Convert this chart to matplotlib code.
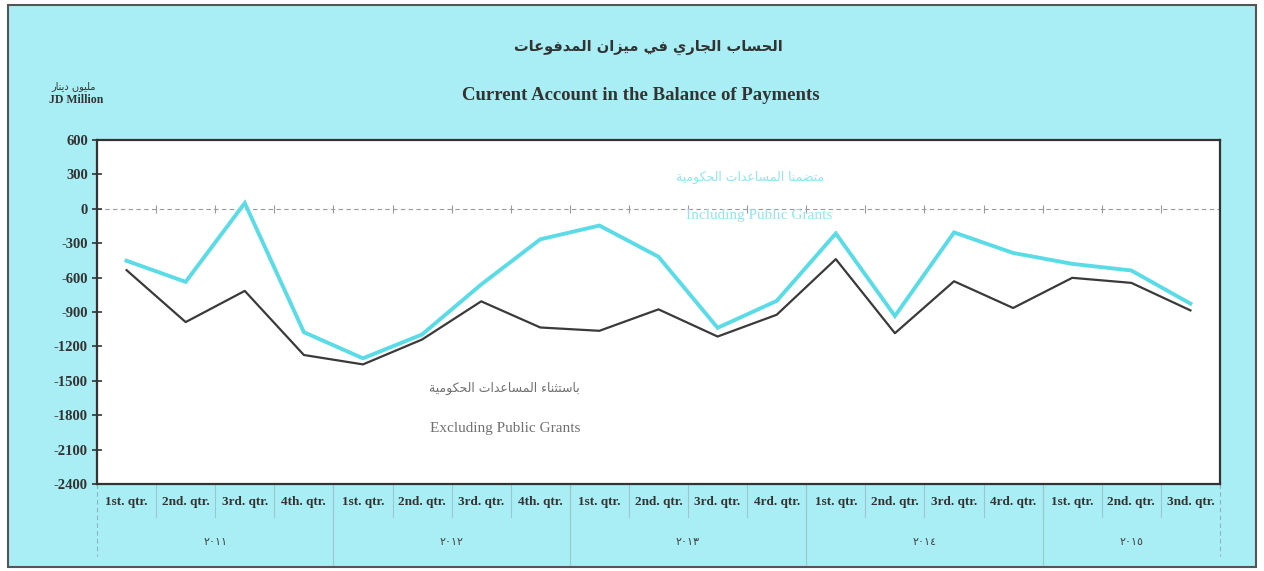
import matplotlib
matplotlib.use("Agg")
import matplotlib.pyplot as plt
import matplotlib.transforms as mtransforms
from matplotlib.patches import Rectangle

# البيانات (مليون دينار)
quarters = ["1st. qtr.", "2nd. qtr.", "3rd. qtr.", "4th. qtr.",
            "1st. qtr.", "2nd. qtr.", "3rd. qtr.", "4th. qtr.",
            "1st. qtr.", "2nd. qtr.", "3rd. qtr.", "4rd. qtr.",
            "1st. qtr.", "2nd. qtr.", "3rd. qtr.", "4rd. qtr.",
            "1st. qtr.", "2nd. qtr.", "3nd. qtr."]
years = ["٢٠١١", "٢٠١٢", "٢٠١٣", "٢٠١٤", "٢٠١٥"]
year_sizes = [4, 4, 4, 4, 3]

incl_grants = [-453, -637, 50, -1076, -1304, -1096, -660, -266, -146, -418,
               -1038, -803, -215, -935, -206, -385, -480, -538, -827]
excl_grants = [-535, -988, -716, -1275, -1357, -1140, -807, -1035, -1064, -877,
               -1114, -924, -439, -1085, -632, -865, -602, -646, -886]

# تشكيل الحروف العربية يدويا (matplotlib لا يربط الحروف)
AR_FORMS = {
    'ء': (0xFE80, 1), 'آ': (0xFE81, 2), 'أ': (0xFE83, 2), 'ؤ': (0xFE85, 2),
    'إ': (0xFE87, 2), 'ئ': (0xFE89, 4), 'ا': (0xFE8D, 2), 'ب': (0xFE8F, 4),
    'ة': (0xFE93, 2), 'ت': (0xFE95, 4), 'ث': (0xFE99, 4), 'ج': (0xFE9D, 4),
    'ح': (0xFEA1, 4), 'خ': (0xFEA5, 4), 'د': (0xFEA9, 2), 'ذ': (0xFEAB, 2),
    'ر': (0xFEAD, 2), 'ز': (0xFEAF, 2), 'س': (0xFEB1, 4), 'ش': (0xFEB5, 4),
    'ص': (0xFEB9, 4), 'ض': (0xFEBD, 4), 'ط': (0xFEC1, 4), 'ظ': (0xFEC5, 4),
    'ع': (0xFEC9, 4), 'غ': (0xFECD, 4), 'ف': (0xFED1, 4), 'ق': (0xFED5, 4),
    'ك': (0xFED9, 4), 'ل': (0xFEDD, 4), 'م': (0xFEE1, 4), 'ن': (0xFEE5, 4),
    'ه': (0xFEE9, 4), 'و': (0xFEED, 2), 'ى': (0xFEEF, 2), 'ي': (0xFEF1, 4),
}


def ar(text):
    out = []
    for i, ch in enumerate(text):
        if ch not in AR_FORMS:
            out.append(ch)
            continue
        base, nf = AR_FORMS[ch]
        prev = text[i - 1] if i > 0 else ''
        nxt = text[i + 1] if i + 1 < len(text) else ''
        join_prev = prev in AR_FORMS and AR_FORMS[prev][1] == 4
        join_next = nf == 4 and nxt in AR_FORMS and AR_FORMS[nxt][1] > 1
        if nf == 1:
            form = 0
        elif join_prev and join_next:
            form = 3
        elif join_prev:
            form = 1
        elif join_next:
            form = 2
        else:
            form = 0
        out.append(chr(base + form))
    return ''.join(reversed(out))


W, H = 1264, 571
BG = '#a9eef4'
DARK = '#333333'
SERIF = ['Liberation Serif', 'DejaVu Serif']
ARAB = ['DejaVu Sans']


def fx(x):
    return x / W


def fy(y):
    return 1 - y / H


fig = plt.figure(figsize=(W / 100, H / 100), dpi=100, facecolor='white')
fig.patches.append(Rectangle((fx(8), fy(567)), fx(1256) - fx(8), fy(5) - fy(567),
                             transform=fig.transFigure, facecolor=BG,
                             edgecolor='#555555', linewidth=1.5, zorder=-10))

ax = fig.add_axes([fx(97), fy(484), fx(1220) - fx(97), fy(140) - fy(484)])
ax.set_facecolor('white')
n = len(quarters)
xs = list(range(n))

ax.plot(xs, incl_grants, color='#5adce7', lw=2.8, solid_joinstyle='miter', zorder=3)
ax.plot(xs, excl_grants, color='#3a3a3a', lw=1.6, zorder=4)

# خط الصفر المتقطع
ax.axhline(0, color='#9a9a9a', lw=0.8, ls=(0, (4, 3)), zorder=1)
bounds = [i + 0.5 for i in range(n - 1)]
ax.plot(bounds, [0] * len(bounds), ls='none', marker='|', ms=6, mew=0.8,
        color='#9a9a9a', zorder=1)

ax.set_xlim(-0.5, n - 0.5)
ax.set_ylim(-2400, 600)
ax.set_yticks(range(-2400, 601, 300))
ax.set_yticklabels([str(v) for v in range(-2400, 601, 300)],
                   fontfamily=SERIF, fontweight='bold', fontsize=10.5, color=DARK)
ax.set_xticks([])
ax.tick_params(axis='y', direction='inout', length=7, width=1.2, color=DARK, pad=3)
for sp in ax.spines.values():
    sp.set_color(DARK)
    sp.set_linewidth(1.6)

# تسميات المحور السيني
tr = mtransforms.blended_transform_factory(ax.transData, ax.transAxes)
for i, q in enumerate(quarters):
    ax.text(i, -0.052, q, transform=tr, ha='center', va='center',
            fontfamily=SERIF, fontweight='bold', fontsize=9.5, color=DARK)
for b in bounds:
    ax.plot([b, b], [0, -0.095], transform=tr, color='#9cc6cf', lw=0.8, clip_on=False)

start = 0
for yr, size in zip(years, year_sizes):
    ax.text(start + (size - 1) / 2, -0.17, yr, transform=tr, ha='center', va='center',
            fontfamily=ARAB, fontsize=8, color='#444444')
    edge = start - 0.5
    if start == 0:
        ax.plot([edge, edge], [0, -0.21], transform=tr, color='#8ab4bd', lw=0.8,
                ls=(0, (4, 3)), clip_on=False)
    else:
        ax.plot([edge, edge], [0, -0.235], transform=tr, color='#9cc6cf', lw=0.8,
                clip_on=False)
    start += size
ax.plot([n - 0.5, n - 0.5], [0, -0.21], transform=tr, color='#8ab4bd', lw=0.8,
        ls=(0, (4, 3)), clip_on=False)

# شروح الخطوط
ax.text(10.55, 270, ar('متضمنا المساعدات الحكومية'), ha='center', va='center',
        fontfamily=ARAB, fontsize=9, color='#8fe6ee')
ax.text(10.7, -60, 'Including Public Grants', ha='center', va='center',
        fontfamily=SERIF, fontsize=11, color='#8fe6ee')
ax.text(6.4, -1570, ar('باستثناء المساعدات الحكومية'), ha='center', va='center',
        fontfamily=ARAB, fontsize=9, color='#707070')
ax.text(6.4, -1920, 'Excluding Public Grants', ha='center', va='center',
        fontfamily=SERIF, fontsize=11, color='#707070')

# العناوين
fig.text(fx(648), fy(47), ar('الحساب الجاري في ميزان المدفوعات'), ha='center',
         va='center', fontfamily=ARAB, fontweight='bold', fontsize=10.5, color=DARK)
fig.text(fx(641), fy(96), 'Current Account in the Balance of Payments', ha='center',
         va='center', fontfamily=SERIF, fontweight='bold', fontsize=13.5, color=DARK)
fig.text(fx(74), fy(86), ar('مليون دينار'), ha='center', va='center',
         fontfamily=ARAB, fontsize=7, color=DARK)
fig.text(fx(76), fy(100), 'JD Million', ha='center', va='center',
         fontfamily=SERIF, fontweight='bold', fontsize=8.5, color=DARK)

fig.savefig('out.png', dpi=100, facecolor=fig.get_facecolor())
